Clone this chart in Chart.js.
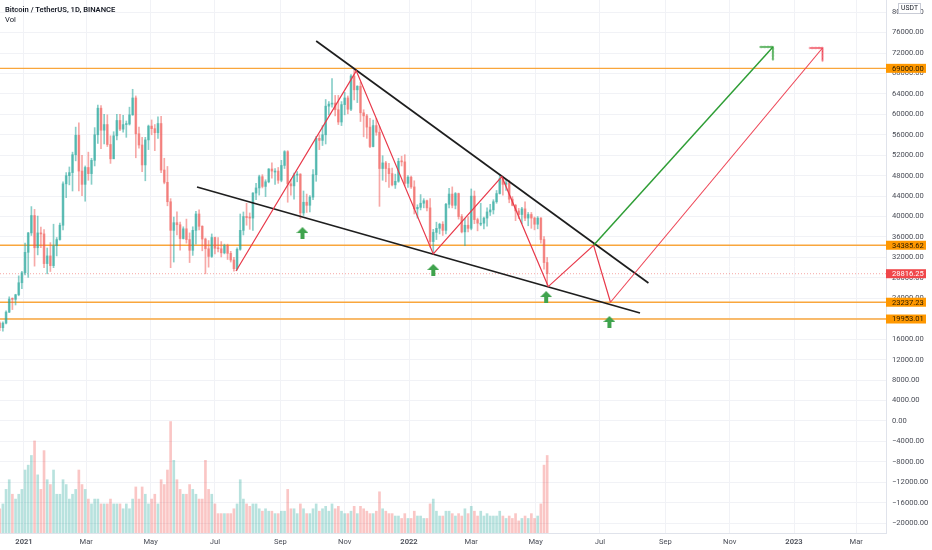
<!DOCTYPE html>
<html>
<head>
<meta charset="utf-8">
<script src="https://cdn.jsdelivr.net/npm/chart.js@4.4.1/dist/chart.umd.min.js"></script>
<style>
  body { margin: 0; background: #fff; }
  #wrap { position: relative; width: 932px; height: 550px; }
  #head { position: absolute; left: 5px; top: 5px; font-family: Roboto, sans-serif; font-size: 7.6px; color: #131722; line-height: 10px; }
  #head b { font-weight: 600; }
</style>
</head>
<body>
<div id="wrap">
  <canvas id="c" width="932" height="550"></canvas>
  <div id="head"><b>Bitcoin / TetherUS, 1D, BINANCE</b><br>Vol</div>
</div>
<script>
// candles are 3-day bars, day 0 = 1 Jan 2021
const firstDay = -23;
const stepDays = 3;
const firstOpen = 19170;

const closes = [18250,19150,21300,23850,23800,24700,27050,29000,
  33000,36800,40200,33900,36800,36600,30800,32300,30400,34300,
  35500,38300,46400,48000,48600,52100,55900,48900,46300,
  49600,48400,51000,56000,61200,56900,58000,54100,51300,55800,58800,
  57100,58000,58100,59900,63200,56200,54000,50100,55000,57700,
  57200,56400,58200,49100,46700,42900,37300,38800,38400,35700,
  37600,35500,33400,37300,40500,38100,35600,33700,32200,35900,
  33800,33700,32900,34300,32800,31500,29800,33600,37300,40000,39800,
  39700,44600,45600,47800,45900,46800,49300,48900,48900,47100,
  50000,52700,46400,46000,48100,48300,40700,42800,42200,43800,
  48200,55300,54900,56000,61600,62000,62200,60900,58500,61900,63200,
  61000,67500,64800,65500,60300,59700,57500,53700,57800,56500,
  49400,50500,49400,48400,46200,46900,50800,50700,46500,47700,
  45800,41500,41800,42600,43100,41700,35100,36900,37700,38500,
  37300,42400,44400,42200,44500,40000,37000,38300,37700,44000,
  39400,38700,38700,39700,40900,41300,42900,44500,47400,46300,
  46600,43400,42200,41100,40400,41500,39700,40400,39700,38500,
  39700,35500,31000,28816.25];

const highs = [19400,19400,21550,24300,24100,24800,28400,29300,
  34800,36900,41950,41400,40100,37950,37450,33850,34900,38500,
  35900,38700,46800,48600,49700,52600,57500,58350,52000,
  49900,52600,51400,57400,61800,61700,60000,59900,55800,56600,60000,
  60000,59800,58700,61400,64900,63600,57500,55500,55500,57900,
  58900,58000,59500,59600,51400,49800,43500,39900,40900,38900,
  38000,39500,36800,38000,41000,41300,38200,35800,35300,36600,
  36000,35900,35100,34600,34600,33200,32000,33900,40500,40900,42600,
  40700,44700,46500,48100,48200,47200,49400,50500,49400,49600,
  51000,52900,52900,47300,48500,48800,48400,45000,44400,44100,
  49200,55700,56000,57800,62900,62500,67000,63700,63700,62500,64300,
  63600,67800,69000,65600,66300,60900,60000,59200,58900,59200,
  57600,51900,50800,50400,49500,48300,51400,51800,52100,48000,
  47900,47000,42300,44300,43500,43200,43500,37500,38900,38700,
  39000,42600,45500,45800,44700,44600,40400,39600,40000,45400,
  45000,39700,42600,39900,41700,42400,43300,45100,48200,47700,
  47200,47100,43900,42400,41600,41800,42900,40800,40800,39900,
  40000,39800,36100,32000];

const lows = [17650,17580,19000,21200,21800,22700,24500,25900,
  28600,28100,36300,30300,32500,33900,30000,28800,29250,30000,
  32300,35400,37400,43700,46200,45000,50900,45000,44100,
  43000,47100,46300,49900,54300,53300,54200,53700,50400,51300,55000,
  56800,56500,55500,57900,59800,51500,53400,48800,47000,53100,
  56000,52900,55300,48600,46400,42100,30000,31100,36400,33400,
  35600,34800,31000,32400,34600,37400,33300,28800,30100,32000,
  32700,33100,32100,32700,31600,31100,29300,29500,33400,36400,38300,
  37500,37300,43300,44200,45600,43900,46600,47500,46300,46500,
  46800,49400,42800,44200,43400,46800,39600,40200,40800,40900,
  43300,46900,53100,53900,54200,59900,61400,59700,58000,57800,59900,
  60100,60700,62800,62300,58600,55600,55300,53500,53600,55900,
  42000,47100,46800,45700,46000,45500,46700,49900,46000,45700,
  45500,40500,39700,41300,41700,41100,34000,32900,35500,36600,
  36300,36600,41700,41700,41500,39500,36800,34300,37000,37400,
  38600,37200,38200,37600,38100,40200,40500,42600,44400,44200,
  45100,42700,42100,39200,39600,38600,39200,38200,37700,37400,
  37600,34800,29700,26700];

// volume, thousands of BTC per day
const volumes = [50,60,90,110,80,70,80,90,
  130,140,160,190,120,90,170,110,100,130,
  80,80,110,100,70,80,90,130,100,
  90,70,60,70,70,60,60,60,70,60,60,
  60,50,60,50,70,95,70,95,80,60,
  70,80,60,110,100,130,230,150,110,90,
  80,80,100,90,80,70,70,150,90,80,
  60,40,40,40,40,40,50,60,110,70,60,
  55,60,60,50,45,50,45,45,40,40,
  45,45,90,50,50,40,60,50,40,40,
  50,60,45,50,55,45,60,50,55,45,40,
  40,45,55,40,55,50,45,40,40,45,
  85,50,45,40,40,35,35,30,40,30,
  30,45,35,35,30,30,60,70,45,35,
  35,45,45,40,35,40,35,50,40,55,
  45,35,45,35,40,35,35,35,45,35,
  30,35,30,40,25,30,35,30,40,30,
  35,60,140,160];

const xTickDays = [0,59,120,181,243,304,365,424,485,546,608,669,730,789];
const xTickLabels = ['2021','Mar','May','Jul','Sep','Nov','2022','Mar','May','Jul','Sep','Nov','2023','Mar'];
const priceTicks = [-20000,-16000,-12000,-8000,-4000,0,4000,8000,12000,16000,20000,24000,28000,
  32000,36000,40000,44000,48000,52000,56000,60000,64000,68000,72000,76000,80000];

const levels = [69000, 34385.62, 23237.23, 19953.01];
const lastPrice = 28816.25;

const upperDays = [277, 592], upperPrices = [74350, 27000];
const lowerDays = [164, 584], lowerPrices = [45785, 21131];
const zigDays = [201, 315, 388, 453, 497, 540, 556];
const zigPrices = [29350, 68500, 32700, 47800, 26300, 34385.62, 23237.23];
const greenDays = [540, 710], greenPrices = [34385.62, 73180];
const redDays = [556, 757], redPrices = [23237.23, 72980];
const markDays = [264, 388, 495, 555];
const markPrices = [36780, 29545, 24260, 19370];

const xMin = -22.75, xMax = 817.2, yMin = -21914, yMax = 82370;

const days = closes.map((c, i) => firstDay + i * stepDays);
const opens = closes.map((c, i) => i == 0 ? firstOpen : closes[i - 1]);
const up = closes.map((c, i) => c >= opens[i]);

const UP = 'rgba(38,166,154,0.55)', DN = 'rgba(239,83,80,0.5)';
const VUP = 'rgba(38,166,154,0.33)', VDN = 'rgba(239,83,80,0.33)';

function pts(xs, ys) { return xs.map((x, i) => ({x: x, y: ys[i]})); }

function chevron(color) {
  let c = document.createElement('canvas');
  c.width = 30; c.height = 30;
  let g = c.getContext('2d');
  g.strokeStyle = color; g.lineWidth = 1.6; g.lineCap = 'round'; g.lineJoin = 'miter';
  g.beginPath(); g.moveTo(6, 6); g.lineTo(15, 15); g.lineTo(6, 24); g.stroke();
  return c;
}
function upArrow(color) {
  let c = document.createElement('canvas');
  c.width = 12; c.height = 12;
  let g = c.getContext('2d');
  g.fillStyle = color;
  g.beginPath();
  g.moveTo(6, 0); g.lineTo(12, 6); g.lineTo(8, 6); g.lineTo(8, 12);
  g.lineTo(4, 12); g.lineTo(4, 6); g.lineTo(0, 6); g.closePath(); g.fill();
  return c;
}

function lineSet(data, color, width, order, extra) {
  return Object.assign({type: 'line', data: data, borderColor: color, borderWidth: width,
    pointRadius: 0, pointHoverRadius: 0, fill: false, tension: 0, order: order, yAxisID: 'y'}, extra || {});
}

const headRadius = ctx => ctx.dataIndex == 1 ? 2 : 0;

const datasets = [
  {type: 'bar', data: pts(days, volumes), backgroundColor: up.map(u => u ? VUP : VDN),
    barThickness: 2, grouped: false, yAxisID: 'yv', order: 9},
  {type: 'bar', data: days.map((d, i) => ({x: d, y: [lows[i], highs[i]]})),
    backgroundColor: up.map(u => u ? UP : DN), barThickness: 1, grouped: false, yAxisID: 'y', order: 6},
  {type: 'bar', data: days.map((d, i) => ({x: d, y: [opens[i], closes[i]]})),
    backgroundColor: up.map(u => u ? UP : DN), barThickness: 2, minBarLength: 1, grouped: false, yAxisID: 'y', order: 5},
  lineSet([{x: xMin, y: lastPrice}, {x: xMax, y: lastPrice}], 'rgba(239,83,80,0.5)', 1, 8, {borderDash: [1, 2]}),
  lineSet(pts(upperDays, upperPrices), '#1e1e1e', 1.7, 3),
  lineSet(pts(lowerDays, lowerPrices), '#1e1e1e', 1.7, 3),
  lineSet(pts(zigDays, zigPrices), '#e8394a', 1.2, 2),
  lineSet(pts(greenDays, greenPrices), '#2f9e36', 1.5, 1,
    {pointStyle: chevron('#2f9e36'), pointRadius: headRadius, pointRotation: -45}),
  lineSet(pts(redDays, redPrices), '#ee4455', 1.1, 1,
    {pointStyle: chevron('#ee4455'), pointRadius: headRadius, pointRotation: -45}),
  lineSet(pts(markDays, markPrices), '#3fa34d', 0, 0,
    {showLine: false, pointStyle: upArrow('#3fa34d'), pointRadius: 3})
];
levels.forEach(v => {
  datasets.push(lineSet([{x: xMin, y: v}, {x: xMax, y: v}], '#f9a63c', 1.3, 7));
});

const tagPlugin = {
  id: 'tags',
  afterDraw(chart) {
    let ctx = chart.ctx, y = chart.scales.y;
    let left = y.left;
    ctx.save();
    ctx.font = '7.6px Roboto, sans-serif';
    ctx.textBaseline = 'middle';
    ctx.textAlign = 'left';
    function tag(v, bg, fg) {
      let py = y.getPixelForValue(v);
      ctx.fillStyle = bg;
      ctx.fillRect(left, py - 4.5, 40, 9);
      ctx.fillStyle = fg;
      ctx.fillText(v.toFixed(2), left + 6, py + 0.5);
    }
    levels.forEach(v => tag(v, '#ff9800', '#2b1c00'));
    tag(lastPrice, '#f0474a', '#ffffff');
    // unit box
    ctx.fillStyle = '#ffffff';
    ctx.strokeStyle = '#c9ccd6';
    ctx.lineWidth = 1;
    ctx.fillRect(left + 12.5, 3.5, 22, 10);
    ctx.strokeRect(left + 12.5, 3.5, 22, 10);
    ctx.fillStyle = '#131722';
    ctx.textAlign = 'center';
    ctx.font = '6.8px Roboto, sans-serif';
    ctx.fillText('USDT', left + 23.5, 8.8);
    ctx.restore();
  }
};

// no extra room for the first/last tick labels
function noPad(s) { s.paddingTop = 0; s.paddingBottom = 0; s.paddingLeft = 0; s.paddingRight = 0; }

Chart.defaults.font.family = 'Roboto, sans-serif';

new Chart(document.getElementById('c').getContext('2d'), {
  type: 'bar',
  data: {datasets: datasets},
  options: {
    responsive: false,
    animation: false,
    events: [],
    layout: {padding: 0, autoPadding: false},
    plugins: {legend: {display: false}, tooltip: {enabled: false}},
    scales: {
      x: {
        type: 'linear', min: xMin, max: xMax, offset: false,
        afterBuildTicks: s => { s.ticks = xTickDays.map(v => ({value: v})); },
        afterFit: s => { s.height = 17; noPad(s); },
        ticks: {
          callback: (v, i) => xTickLabels[i],
          padding: 5, maxRotation: 0, autoSkip: false, color: '#4a4d57',
          font: c => ({size: 7.6, weight: /^\d{4}$/.test(xTickLabels[c.index]) ? '600' : 'normal'})
        },
        grid: {color: '#f1f2f6', drawTicks: false, offset: false},
        border: {color: '#e0e3eb'}
      },
      y: {
        position: 'right', min: yMin, max: yMax,
        afterBuildTicks: s => { s.ticks = priceTicks.map(v => ({value: v})); },
        afterFit: s => { s.width = 46; noPad(s); },
        ticks: {
          callback: v => (v < 0 ? '\u2212' + Math.abs(v).toFixed(2) : v.toFixed(2)),
          padding: 6, autoSkip: false, color: '#4a4d57', font: {size: 7.6}
        },
        grid: {color: '#f1f2f6', drawTicks: false},
        border: {color: '#e0e3eb'}
      },
      yv: {display: false, min: 0, max: 1100}
    }
  },
  plugins: [tagPlugin]
});
</script>
</body>
</html>
